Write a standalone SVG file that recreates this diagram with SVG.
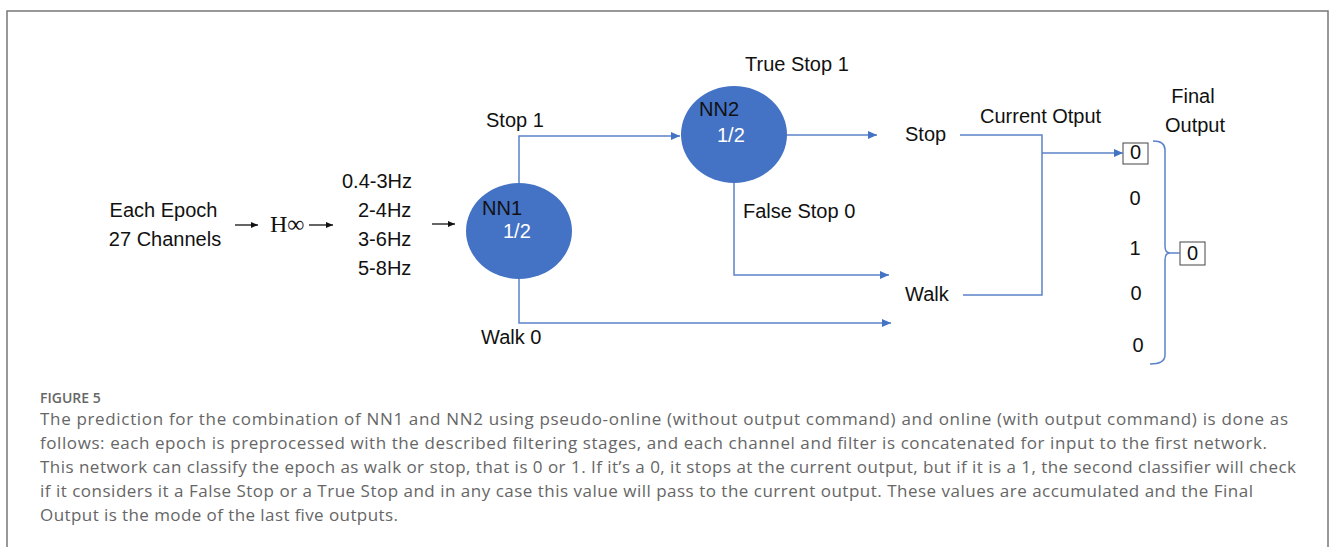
<svg xmlns="http://www.w3.org/2000/svg" width="1330" height="547" viewBox="0 0 1330 547">
<style>
.t{font-family:"Liberation Sans",Arial,sans-serif;font-size:20px;fill:#111}
.w{font-family:"Liberation Sans",Arial,sans-serif;font-size:20px;fill:#fff}
.s{font-family:"Liberation Serif","Times New Roman",serif;font-size:24px;fill:#111}
.c{font-family:"Open Sans","Liberation Sans",sans-serif;font-size:17px;fill:#666}
.f{font-family:"Open Sans","Liberation Sans",sans-serif;font-size:14px;font-weight:600;fill:#666}
.bl{fill:none;stroke:#5b83c9;stroke-width:1.5}
.bk{fill:none;stroke:#111;stroke-width:1.3}
.box{fill:#fff;stroke:#444;stroke-width:1}
.node{fill:#4472c4}
</style>
<defs>
<marker id="ab" markerUnits="userSpaceOnUse" markerWidth="10" markerHeight="8" refX="9" refY="4" orient="auto">
<path d="M0,0 L9,4 L0,8 z" fill="#4472c4"/>
</marker>
<marker id="ak" markerUnits="userSpaceOnUse" markerWidth="8" markerHeight="6" refX="7" refY="3" orient="auto">
<path d="M0,0 L7,3 L0,6 z" fill="#111"/>
</marker>
</defs>
<rect x="0" y="0" width="1330" height="547" fill="#fff"/>
<rect x="7" y="11" width="1321" height="600" fill="none" stroke="#777" stroke-width="1.5"/>

<g id="input">
<text class="t" x="163.5" y="217" text-anchor="middle">Each Epoch</text>
<text class="t" x="165" y="246" text-anchor="middle">27 Channels</text>
</g>
<g id="hinf">
<text class="s" x="270" y="232">H∞</text>
</g>
<g id="filters">
<text class="t" x="342" y="188">0.4-3Hz</text>
<text class="t" x="358" y="217">2-4Hz</text>
<text class="t" x="358" y="246">3-6Hz</text>
<text class="t" x="358" y="275">5-8Hz</text>
</g>
<g id="nn1">
<ellipse class="node" cx="519" cy="231" rx="53" ry="48"/>
<text class="t" x="482" y="215">NN1</text>
<text class="w" x="503" y="238">1/2</text>
</g>
<g id="nn2">
<ellipse class="node" cx="734" cy="134.5" rx="53" ry="48.5"/>
<text class="t" x="699" y="116">NN2</text>
<text class="w" x="717" y="142">1/2</text>
</g>
<g id="labels">
<text class="t" x="745" y="71">True Stop 1</text>
<text class="t" x="486" y="127">Stop 1</text>
<text class="t" x="743" y="218">False Stop 0</text>
<text class="t" x="481" y="344">Walk 0</text>
</g>
<g id="stop">
<text class="t" x="905" y="141">Stop</text>
</g>
<g id="walk">
<text class="t" x="905" y="301">Walk</text>
</g>
<g id="current-output">
<text class="t" x="980" y="123">Current Otput</text>
<rect class="box" x="1123" y="143" width="25" height="21"/>
<text class="t" x="1135.5" y="159" text-anchor="middle">0</text>
<text class="t" x="1135" y="205" text-anchor="middle">0</text>
<text class="t" x="1135" y="255" text-anchor="middle">1</text>
<text class="t" x="1136" y="300" text-anchor="middle">0</text>
<text class="t" x="1138" y="352" text-anchor="middle">0</text>
</g>
<g id="final-output">
<text class="t" x="1193" y="103" text-anchor="middle">Final</text>
<text class="t" x="1195" y="132" text-anchor="middle">Output</text>
<rect class="box" x="1180" y="242" width="25" height="23"/>
<text class="t" x="1192.5" y="260" text-anchor="middle">0</text>
</g>

<g id="connectors">
<line class="bk" x1="235" y1="225" x2="258" y2="225" marker-end="url(#ak)"/>
<line class="bk" x1="309" y1="225" x2="333" y2="225" marker-end="url(#ak)"/>
<line class="bk" x1="432" y1="224" x2="455" y2="224" marker-end="url(#ak)"/>
<polyline class="bl" points="519,183 519,136 680,136" marker-end="url(#ab)"/>
<polyline class="bl" points="519,279 519,323 891,323" marker-end="url(#ab)"/>
<line class="bl" x1="787" y1="135" x2="877" y2="135" marker-end="url(#ab)"/>
<polyline class="bl" points="734,183 734,275 889,275" marker-end="url(#ab)"/>
<polyline class="bl" points="960,135 1042,135 1042,295 963,295"/>
<line class="bl" x1="1042" y1="153" x2="1123" y2="153" marker-end="url(#ab)"/>
<path class="bl" d="M1153,141 Q1165,141 1165,150 L1165,246 Q1165,253 1170,253 Q1165,253 1165,260 L1165,355 Q1165,364 1150,364"/>
<line class="bl" x1="1170" y1="253" x2="1180" y2="253"/>
</g>

<g id="caption">
<text class="f" x="40" y="403">FIGURE 5</text>
<text class="c" x="40" y="425" textLength="1248" lengthAdjust="spacing">The prediction for the combination of NN1 and NN2 using pseudo-online (without output command) and online (with output command) is done as</text>
<text class="c" x="40" y="449" textLength="1227" lengthAdjust="spacing">follows: each epoch is preprocessed with the described filtering stages, and each channel and filter is concatenated for input to the first network.</text>
<text class="c" x="40" y="473" textLength="1256" lengthAdjust="spacing">This network can classify the epoch as walk or stop, that is 0 or 1. If it’s a 0, it stops at the current output, but if it is a 1, the second classifier will check</text>
<text class="c" x="40" y="497" textLength="1213" lengthAdjust="spacing">if it considers it a False Stop or a True Stop and in any case this value will pass to the current output. These values are accumulated and the Final</text>
<text class="c" x="40" y="521" textLength="358" lengthAdjust="spacing">Output is the mode of the last five outputs.</text>
</g>
</svg>
